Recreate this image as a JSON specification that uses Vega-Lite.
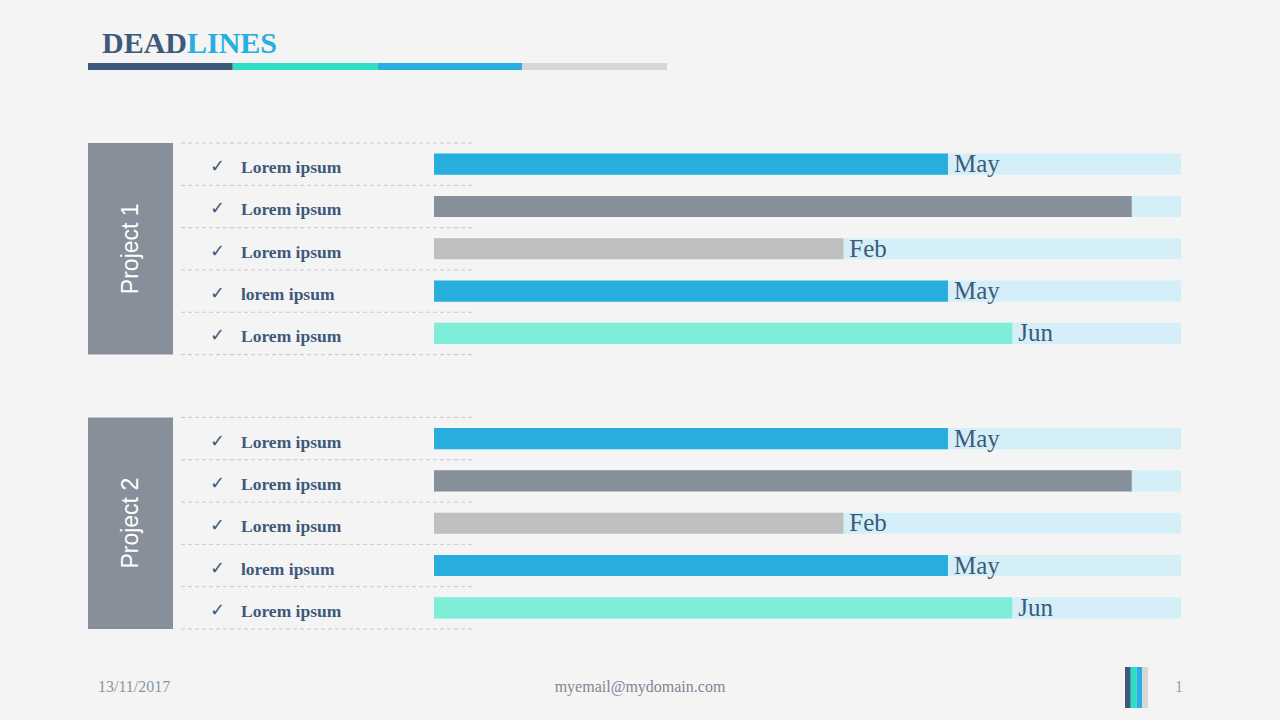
{
  "$schema": "https://vega.github.io/schema/vega-lite/v6.json",
  "width": 1280,
  "height": 720,
  "autosize": {"type": "fit", "contains": "padding"},
  "padding": 0,
  "background": "#f4f4f4",
  "config": {"view": {"stroke": null}},
  "datasets": {
    "tasks": [
      {"project": "Project 1", "task": 1, "name": "Lorem ipsum", "done": 68.8, "month": "May", "stage": "blue"},
      {"project": "Project 1", "task": 2, "name": "Lorem ipsum", "done": 93.4, "month": "", "stage": "slate"},
      {"project": "Project 1", "task": 3, "name": "Lorem ipsum", "done": 54.8, "month": "Feb", "stage": "silver"},
      {"project": "Project 1", "task": 4, "name": "lorem ipsum", "done": 68.8, "month": "May", "stage": "blue"},
      {"project": "Project 1", "task": 5, "name": "Lorem ipsum", "done": 77.4, "month": "Jun", "stage": "mint"},
      {"project": "Project 2", "task": 1, "name": "Lorem ipsum", "done": 68.8, "month": "May", "stage": "blue"},
      {"project": "Project 2", "task": 2, "name": "Lorem ipsum", "done": 93.4, "month": "", "stage": "slate"},
      {"project": "Project 2", "task": 3, "name": "Lorem ipsum", "done": 54.8, "month": "Feb", "stage": "silver"},
      {"project": "Project 2", "task": 4, "name": "lorem ipsum", "done": 68.8, "month": "May", "stage": "blue"},
      {"project": "Project 2", "task": 5, "name": "Lorem ipsum", "done": 77.4, "month": "Jun", "stage": "mint"}
    ],
    "projects": [{"project": "Project 1"}, {"project": "Project 2"}],
    "segments": [{"seg": "s1"}, {"seg": "s2"}, {"seg": "s3"}, {"seg": "s4"}]
  },
  "layer": [
    {
      "encoding": {
        "y": {"field": "project", "type": "nominal", "axis": null,
          "scale": {"type": "band", "domain": ["Project 1", "Project 2"], "range": [143, 629], "paddingInner": 0.229, "paddingOuter": 0}}
      },
      "layer": [
        {
          "data": {"name": "tasks"},
          "mark": {"type": "bar", "color": "#d4eff8"},
          "encoding": {
            "yOffset": {"field": "task", "type": "ordinal", "scale": {"type": "band", "domain": [1, 2, 3, 4, 5], "paddingInner": 0.5, "paddingOuter": 0.25}},
            "x": {"datum": 0, "type": "quantitative", "axis": null, "scale": {"domain": [-58.1, 113.25], "nice": false, "zero": false}},
            "x2": {"datum": 100}
          }
        },
        {
          "data": {"name": "tasks"},
          "mark": {"type": "bar"},
          "encoding": {
            "yOffset": {"field": "task", "type": "ordinal"},
            "x": {"field": "done", "type": "quantitative"},
            "x2": {"datum": 0},
            "color": {"field": "stage", "type": "nominal", "legend": null,
              "scale": {"domain": ["blue", "slate", "silver", "mint", "s1", "s2", "s3", "s4"], "range": ["#27aedd", "#87909a", "#bfbfbf", "#7feed8", "#3d5a7a", "#2de0c4", "#29aee0", "#d7d7d7"]}}
          }
        },
        {
          "data": {"name": "tasks"},
          "mark": {"type": "text", "align": "left", "baseline": "alphabetic", "dx": 6, "dy": 8, "font": "Liberation Serif", "fontSize": 25, "color": "#3d5a7a"},
          "encoding": {
            "yOffset": {"field": "task", "type": "ordinal"},
            "x": {"field": "done", "type": "quantitative"},
            "text": {"field": "month"}
          }
        },
        {
          "data": {"name": "tasks"},
          "mark": {"type": "text", "text": "✓", "align": "center", "baseline": "alphabetic", "dy": 8, "font": "DejaVu Sans", "fontSize": 18, "color": "#3d5a7a"},
          "encoding": {
            "yOffset": {"field": "task", "type": "ordinal"},
            "x": {"datum": -28.98, "type": "quantitative"}
          }
        },
        {
          "data": {"name": "tasks"},
          "mark": {"type": "text", "align": "left", "baseline": "alphabetic", "dy": 9, "font": "Liberation Serif", "fontWeight": "bold", "fontSize": 17.5, "color": "#3d5a7a"},
          "encoding": {
            "yOffset": {"field": "task", "type": "ordinal"},
            "x": {"datum": -25.84, "type": "quantitative"},
            "text": {"field": "name"}
          }
        },
        {
          "data": {"name": "projects"},
          "mark": {"type": "bar", "color": "#87909a"},
          "encoding": {
            "x": {"datum": -46.32, "type": "quantitative"},
            "x2": {"datum": -34.94}
          }
        },
        {
          "data": {"name": "projects"},
          "mark": {"type": "text", "angle": 270, "align": "center", "baseline": "middle", "font": "Liberation Sans", "fontSize": 23, "color": "#ffffff"},
          "encoding": {
            "x": {"datum": -40.63, "type": "quantitative"},
            "text": {"field": "project"}
          }
        },
        {
          "data": {"name": "projects"},
          "mark": {"type": "rule", "color": "#c9c9c9", "strokeDash": [4, 3], "strokeWidth": 1},
          "encoding": {"y": {"field": "project", "type": "nominal", "bandPosition": 0}, "x": {"datum": -33.87, "type": "quantitative"}, "x2": {"datum": 5.22}}
        },
        {
          "data": {"name": "projects"},
          "mark": {"type": "rule", "color": "#c9c9c9", "strokeDash": [4, 3], "strokeWidth": 1},
          "encoding": {"y": {"field": "project", "type": "nominal", "bandPosition": 0.2}, "x": {"datum": -33.87, "type": "quantitative"}, "x2": {"datum": 5.22}}
        },
        {
          "data": {"name": "projects"},
          "mark": {"type": "rule", "color": "#c9c9c9", "strokeDash": [4, 3], "strokeWidth": 1},
          "encoding": {"y": {"field": "project", "type": "nominal", "bandPosition": 0.4}, "x": {"datum": -33.87, "type": "quantitative"}, "x2": {"datum": 5.22}}
        },
        {
          "data": {"name": "projects"},
          "mark": {"type": "rule", "color": "#c9c9c9", "strokeDash": [4, 3], "strokeWidth": 1},
          "encoding": {"y": {"field": "project", "type": "nominal", "bandPosition": 0.6}, "x": {"datum": -33.87, "type": "quantitative"}, "x2": {"datum": 5.22}}
        },
        {
          "data": {"name": "projects"},
          "mark": {"type": "rule", "color": "#c9c9c9", "strokeDash": [4, 3], "strokeWidth": 1},
          "encoding": {"y": {"field": "project", "type": "nominal", "bandPosition": 0.8}, "x": {"datum": -33.87, "type": "quantitative"}, "x2": {"datum": 5.22}}
        },
        {
          "data": {"name": "projects"},
          "mark": {"type": "rule", "color": "#c9c9c9", "strokeDash": [4, 3], "strokeWidth": 1},
          "encoding": {"y": {"field": "project", "type": "nominal", "bandPosition": 1}, "x": {"datum": -33.87, "type": "quantitative"}, "x2": {"datum": 5.22}}
        }
      ]
    },
    {
      "layer": [
        {
          "data": {"values": [{"label": "DEAD"}]},
          "mark": {"type": "text", "align": "right", "baseline": "alphabetic", "font": "Liberation Serif", "fontWeight": "bold", "fontSize": 30, "color": "#3d5a7a"},
          "encoding": {
            "x": {"datum": 187, "type": "quantitative", "axis": null, "scale": {"domain": [0, 1280], "nice": false, "zero": false}},
            "y": {"datum": 53, "type": "quantitative", "axis": null, "scale": {"domain": [0, 720], "reverse": true, "nice": false, "zero": false}},
            "text": {"field": "label"}
          }
        },
        {
          "data": {"values": [{"label": "LINES"}]},
          "mark": {"type": "text", "align": "left", "baseline": "alphabetic", "font": "Liberation Serif", "fontWeight": "bold", "fontSize": 30, "color": "#29aee0"},
          "encoding": {
            "x": {"datum": 187, "type": "quantitative"},
            "y": {"datum": 53, "type": "quantitative"},
            "text": {"field": "label"}
          }
        },
        {
          "data": {"values": [{"label": "13/11/2017"}]},
          "mark": {"type": "text", "align": "left", "baseline": "alphabetic", "font": "Liberation Serif", "fontSize": 16, "color": "#8d949d"},
          "encoding": {
            "x": {"datum": 98, "type": "quantitative"},
            "y": {"datum": 692, "type": "quantitative"},
            "text": {"field": "label"}
          }
        },
        {
          "data": {"values": [{"label": "myemail@mydomain.com"}]},
          "mark": {"type": "text", "align": "center", "baseline": "alphabetic", "font": "Liberation Serif", "fontSize": 16, "color": "#7d8794"},
          "encoding": {
            "x": {"datum": 640, "type": "quantitative"},
            "y": {"datum": 692, "type": "quantitative"},
            "text": {"field": "label"}
          }
        },
        {
          "data": {"values": [{"label": "1"}]},
          "mark": {"type": "text", "align": "center", "baseline": "alphabetic", "font": "Liberation Serif", "fontSize": 16, "color": "#9aa3ad"},
          "encoding": {
            "x": {"datum": 1179, "type": "quantitative"},
            "y": {"datum": 692, "type": "quantitative"},
            "text": {"field": "label"}
          }
        }
      ]
    },
    {
      "data": {"name": "segments"},
      "mark": {"type": "bar"},
      "encoding": {
        "x": {"field": "seg", "type": "nominal", "axis": null, "scale": {"type": "band", "range": [88, 667], "paddingInner": 0, "paddingOuter": 0}},
        "y": {"datum": 63, "type": "quantitative", "axis": null, "scale": {"domain": [0, 720], "reverse": true, "nice": false, "zero": false}},
        "y2": {"datum": 70},
        "color": {"field": "seg", "type": "nominal", "legend": null}
      }
    },
    {
      "data": {"name": "segments"},
      "mark": {"type": "bar"},
      "encoding": {
        "x": {"field": "seg", "type": "nominal", "axis": null, "scale": {"type": "band", "range": [1125, 1148], "paddingInner": 0, "paddingOuter": 0}},
        "y": {"datum": 667, "type": "quantitative", "axis": null, "scale": {"domain": [0, 720], "reverse": true, "nice": false, "zero": false}},
        "y2": {"datum": 708},
        "color": {"field": "seg", "type": "nominal", "legend": null}
      }
    }
  ],
  "resolve": {"scale": {"x": "independent", "y": "independent"}}
}
